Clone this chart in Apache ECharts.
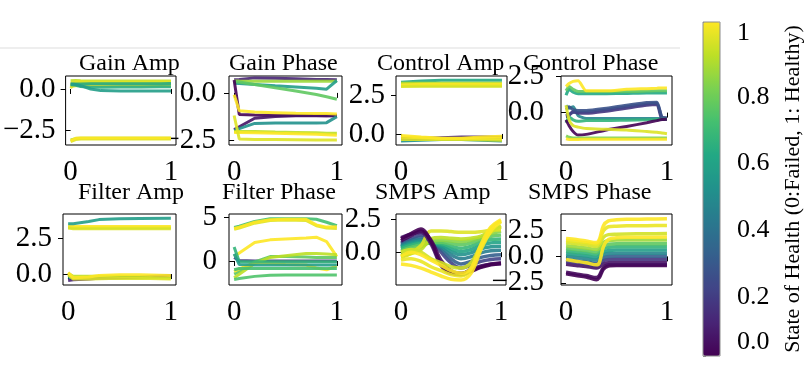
<!DOCTYPE html>
<html>
<head>
<meta charset="utf-8">
<script src="https://cdn.jsdelivr.net/npm/echarts@6/dist/echarts.min.js"></script>
<style>
  html, body { margin: 0; padding: 0; background: #fff; }
  #chart { width: 810px; height: 376px; }
</style>
</head>
<body>
<div id="chart"></div>
<script>
// panel titles and y ticks
const titles = ['Gain Amp', 'Gain Phase', 'Control Amp', 'Control Phase',
  'Filter Amp', 'Filter Phase', 'SMPS Amp', 'SMPS Phase'];
const yTicks = [[-2.5, 0], [-2.5, 0], [0, 2.5], [0, 2.5], [0, 2.5], [0, 5], [0, 2.5], [-2.5, 0, 2.5]];
const yTickLabels = [['−2.5', '0.0'], ['−2.5', '0.0'], ['0.0', '2.5'], ['0.0', '2.5'],
  ['0.0', '2.5'], ['0', '5'], ['0.0', '2.5'], ['−2.5', '0.0', '2.5']];
const yLimits = [[-3.41, 0.79], [-2.77, 0.9], [-0.71, 3.72], [-2.23, 2.52],
  [-0.76, 4.17], [-2.73, 5.34], [-2.48, 2.88], [-2.7, 4.0]];
const xTicks = [0, 1];
const xTickLabels = ['0', '1'];
const cbarTicks = [0, 0.2, 0.4, 0.6, 0.8, 1];
const cbarTickLabels = ['0.0', '0.2', '0.4', '0.6', '0.8', '1'];

// each line: [state of health, y values along the panel's x]
const gainAmpX = [0, 0.05, 0.1, 0.2, 0.3, 0.5, 0.7, 0.9, 1];
const gainAmp = [
  [0.9, [0.5, 0.52, 0.5, 0.48, 0.48, 0.48, 0.48, 0.48, 0.48]],
  [0.97, [0.15, 0.2, 0.22, 0.22, 0.22, 0.22, 0.22, 0.22, 0.22]],
  [1.0, [0.25, 0.28, 0.28, 0.28, 0.27, 0.27, 0.27, 0.27, 0.28]],
  [1.0, [0.35, 0.35, 0.35, 0.35, 0.36, 0.36, 0.37, 0.37, 0.37]],
  [0.95, [0.05, 0.45, 0.45, 0.42, 0.42, 0.43, 0.43, 0.44, 0.44]],
  [0.62, [0.25, 0.22, 0.15, 0.1, 0.1, 0.12, 0.12, 0.13, 0.13]],
  [0.6, [0.3, 0.3, 0.3, 0.32, 0.32, 0.32, 0.32, 0.32, 0.34]],
  [0.55, [0.3, 0.28, 0.2, 0.0, -0.1, -0.12, -0.12, -0.12, -0.12]],
  [0.85, [-3.1, -3.02, -3.0, -3.0, -3.0, -3.0, -3.0, -3.0, -3.0]],
  [0.95, [-3.2, -3.08, -3.05, -3.05, -3.05, -3.05, -3.05, -3.05, -3.05]],
  [1.0, [-3.15, -3.0, -2.98, -2.98, -2.98, -2.98, -2.98, -2.98, -2.98]]
];

const gainPhaseX = [0, 0.05, 0.2, 0.4, 0.6, 0.8, 0.9, 1];
const gainPhase = [
  [0.1, [0.7, 0.72, 0.8, 0.78, 0.75, 0.72, 0.72, 0.7]],
  [0.85, [0.64, 0.63, 0.62, 0.62, 0.62, 0.62, 0.62, 0.62]],
  [0.55, [0.52, 0.5, 0.45, 0.38, 0.32, 0.25, 0.2, 0.66]],
  [0.75, [0.6, 0.58, 0.45, 0.27, 0.1, -0.08, -0.2, -0.34]],
  [0.0, [0.69, -1.15, -1.18, -1.2, -1.2, -1.2, -1.22, -1.22]],
  [0.05, [-1.95, -1.8, -1.35, -1.25, -1.22, -1.22, -1.22, -1.2]],
  [0.5, [-2.0, -1.9, -1.62, -1.6, -1.6, -1.6, -1.58, -1.26]],
  [1.0, [-0.1, -0.95, -1.02, -1.05, -1.08, -1.1, -1.1, -1.12]],
  [0.9, [-2.05, -2.05, -2.05, -2.08, -2.1, -2.12, -2.15, -2.15]],
  [1.0, [-2.1, -2.1, -2.12, -2.15, -2.17, -2.2, -2.22, -2.25]],
  [0.95, [-1.2, -2.45, -2.48, -2.48, -2.49, -2.5, -2.5, -2.5]]
];

const controlAmpX = [0, 0.2, 0.4, 0.6, 0.8, 1];
const controlAmp = [
  [0.6, [3.32, 3.4, 3.44, 3.44, 3.44, 3.44]],
  [0.8, [3.1, 3.1, 3.1, 3.1, 3.1, 3.1]],
  [0.9, [3.25, 3.25, 3.25, 3.25, 3.25, 3.25]],
  [1.0, [3.15, 3.17, 3.17, 3.17, 3.17, 3.17]],
  [0.95, [3.05, 3.06, 3.06, 3.06, 3.06, 3.06]],
  [0.5, [-0.45, -0.4, -0.35, -0.35, -0.4, -0.45]],
  [0.1, [-0.3, -0.3, -0.25, -0.2, -0.2, -0.22]],
  [0.95, [-0.35, -0.35, -0.35, -0.35, -0.38, -0.4]],
  [0.98, [-0.2, -0.25, -0.3, -0.3, -0.3, -0.3]],
  [1.0, [-0.1, -0.2, -0.28, -0.28, -0.2, -0.15]]
];

const controlPhaseX = [0, 0.03, 0.07, 0.12, 0.2, 0.4, 0.6, 0.8, 0.9, 0.95, 1];
const controlPhase = [
  [0.6, [1.2, 1.6, 1.4, 1.3, 1.3, 1.3, 1.32, 1.35, 1.35, 1.35, 1.35]],
  [0.75, [1.5, 1.8, 1.6, 1.45, 1.45, 1.45, 1.45, 1.48, 1.5, 1.5, 1.5]],
  [0.45, [0.5, 0.3, 0.4, -0.2, -0.4, -0.4, -0.4, -0.4, -0.4, -0.4, -0.4]],
  [0.15, [-0.3, -0.2, 0.1, -0.05, -0.05, 0.1, 0.3, 0.5, 0.55, -0.45, -0.45]],
  [0.2, [-0.2, -0.1, 0.0, 0.05, 0.05, 0.2, 0.4, 0.6, 0.65, -0.35, -0.4]],
  [0.25, [0.2, 0.4, 0.2, 0.15, 0.15, 0.3, 0.5, 0.7, 0.72, -0.3, -0.35]],
  [0.65, [-0.7, -0.3, -0.5, -0.6, -0.55, -0.55, -0.52, -0.5, -0.48, -0.45, -0.45]],
  [0.0, [-0.5, -0.9, -1.3, -1.55, -1.5, -1.2, -0.95, -0.7, -0.55, -0.48, -0.45]],
  [0.8, [-1.6, -1.7, -1.75, -1.75, -1.75, -1.75, -1.75, -1.75, -1.75, -1.75, -1.75]],
  [0.95, [0.5, -0.5, -0.9, -1.0, -1.1, -1.15, -1.2, -1.3, -1.35, -1.4, -1.45]],
  [1.0, [-1.8, -1.85, -1.85, -1.85, -1.83, -1.83, -1.83, -1.83, -1.83, -1.83, -1.83]],
  [1.0, [1.8, 2.0, 2.15, 2.2, 1.5, 1.5, 1.6, 1.65, 1.68, 1.7, 1.7]]
];

const filterAmpX = [0, 0.05, 0.2, 0.3, 0.5, 0.7, 1];
const filterAmp = [
  [0.85, [3.25, 3.22, 3.22, 3.22, 3.22, 3.22, 3.22]],
  [1.0, [3.35, 3.3, 3.3, 3.3, 3.3, 3.3, 3.3]],
  [0.95, [3.2, 3.15, 3.15, 3.15, 3.15, 3.15, 3.15]],
  [0.55, [3.5, 3.5, 3.65, 3.78, 3.84, 3.86, 3.87]],
  [0.5, [-0.2, -0.3, -0.3, -0.28, -0.25, -0.25, -0.22]],
  [0.1, [-0.45, -0.4, -0.35, -0.3, -0.25, -0.2, -0.1]],
  [0.9, [0.05, -0.15, -0.15, -0.15, -0.15, -0.2, -0.3]],
  [0.95, [-0.05, -0.35, -0.35, -0.33, -0.3, -0.3, -0.35]],
  [1.0, [0.1, -0.25, -0.2, -0.1, -0.05, -0.05, -0.1]]
];

const filterPhaseX = [0, 0.05, 0.2, 0.35, 0.5, 0.7, 0.8, 0.9, 1];
const filterPhase = [
  [0.15, [0.4, 0.05, 0.0, 0.0, 0.0, 0.0, 0.0, 0.0, 0.0]],
  [0.7, [3.8, 3.95, 4.5, 4.8, 4.8, 4.8, 4.75, 4.4, 4.0]],
  [0.95, [3.6, 3.75, 4.3, 4.6, 4.65, 4.6, 4.0, 3.75, 3.7]],
  [1.0, [3.7, 3.85, 4.4, 4.7, 4.75, 4.75, 4.1, 3.85, 3.9]],
  [1.0, [0.5, 0.9, 2.1, 2.4, 2.5, 2.6, 2.7, 2.2, 0.5]],
  [0.75, [-1.5, -1.2, -0.1, 0.5, 0.5, 0.45, 0.4, 0.4, 0.4]],
  [0.9, [-1.9, -1.5, -0.3, 0.4, 0.6, 0.85, 0.85, 0.8, 0.7]],
  [1.0, [-1.2, -0.9, -0.2, -0.3, -0.4, -0.45, -0.8, -1.0, -0.55]],
  [0.65, [1.6, -0.1, -0.1, -0.1, -0.1, -0.1, -0.1, -0.1, -0.1]],
  [0.55, [0.8, -0.4, -0.45, -0.45, -0.45, -0.45, -0.45, -0.45, -0.45]],
  [0.7, [-1.0, -0.85, -0.85, -0.85, -0.85, -0.85, -0.85, -0.85, -0.85]],
  [0.72, [-2.1, -2.0, -1.75, -1.62, -1.6, -1.6, -1.6, -1.6, -1.6]]
];

const smpsAmpX = [0, 0.1, 0.2, 0.3, 0.4, 0.5, 0.6, 0.7, 0.8, 0.9, 1];
const smpsAmp = [
  [0.2, [0.7, 1.0, 1.3, 0.9, 0.0, -0.8, -1.2, -1.0, -0.7, -0.55, -0.5]],
  [0.3, [0.6, 0.9, 1.1, 0.8, 0.2, -0.5, -0.9, -0.7, -0.4, -0.25, -0.2]],
  [0.42, [0.5, 0.8, 0.95, 0.75, 0.35, -0.2, -0.5, -0.35, -0.05, 0.1, 0.15]],
  [0.5, [0.4, 0.7, 0.85, 0.7, 0.45, 0.05, -0.2, -0.05, 0.25, 0.4, 0.45]],
  [0.58, [0.35, 0.6, 0.75, 0.7, 0.55, 0.25, 0.05, 0.2, 0.5, 0.7, 0.75]],
  [0.66, [0.25, 0.5, 0.65, 0.7, 0.65, 0.45, 0.3, 0.45, 0.75, 0.95, 1.0]],
  [0.75, [0.1, 0.35, 0.55, 0.75, 0.75, 0.65, 0.55, 0.7, 0.95, 1.2, 1.3]],
  [0.82, [-0.1, 0.15, 0.4, 0.8, 0.9, 0.85, 0.8, 0.9, 1.1, 1.4, 1.6]],
  [0.9, [-0.3, -0.1, 0.2, 1.0, 1.1, 1.05, 1.0, 1.05, 1.2, 1.6, 1.9]],
  [0.95, [-0.4, -0.1, 0.5, 1.6, 1.6, 1.55, 1.5, 1.5, 1.55, 1.65, 1.7]],
  [0.08, [1.1, 1.35, 1.5, 0.6, -1.0, -1.6, -1.65, -1.3, -1.05, -0.92, -0.88]],
  [0.03, [0.85, 1.25, 1.6, 0.9, -0.6, -1.4, -1.6, -1.4, -1.1, -0.9, -0.8]],
  [0.0, [1.0, 1.4, 1.75, 0.8, -0.9, -1.55, -1.7, -1.45, -1.15, -0.95, -0.85]],
  [0.93, [0.0, 0.2, 0.0, -0.5, -0.8, -1.1, -1.2, -0.8, 0.5, 1.5, 2.0]],
  [0.97, [-0.6, -0.5, -0.7, -1.1, -1.4, -1.7, -1.8, -1.3, 0.4, 1.8, 2.35]],
  [1.0, [-0.3, 0.0, -0.2, -0.6, -1.0, -1.4, -1.6, -1.2, 0.6, 1.9, 2.45]],
  [1.0, [-0.9, -1.0, -1.2, -1.5, -1.8, -2.05, -2.1, -1.6, 0.2, 1.6, 2.3]]
];

const smpsPhaseX = [0, 0.1, 0.2, 0.3, 0.33, 0.37, 0.42, 0.5, 0.6, 0.8, 1];
const smpsPhase = [
  [0.0, [-1.65, -1.8, -1.95, -2.2, -2.0, -1.2, -0.9, -0.85, -0.85, -0.85, -0.85]],
  [0.02, [-1.5, -1.65, -1.8, -2.0, -1.8, -1.05, -0.8, -0.78, -0.78, -0.8, -0.8]],
  [0.05, [-0.75, -0.85, -0.95, -1.1, -1.0, -0.7, -0.6, -0.6, -0.6, -0.6, -0.6]],
  [0.15, [-0.5, -0.6, -0.7, -0.85, -0.75, -0.4, -0.3, -0.28, -0.28, -0.28, -0.28]],
  [0.3, [-0.3, -0.4, -0.5, -0.65, -0.5, -0.15, 0.0, 0.02, 0.02, 0.02, 0.02]],
  [0.45, [0.0, -0.1, -0.2, -0.35, -0.2, 0.15, 0.28, 0.3, 0.3, 0.3, 0.3]],
  [0.55, [0.25, 0.15, 0.05, -0.1, 0.05, 0.4, 0.55, 0.6, 0.6, 0.6, 0.6]],
  [0.65, [0.5, 0.4, 0.3, 0.15, 0.3, 0.7, 0.85, 0.9, 0.9, 0.9, 0.9]],
  [0.75, [0.75, 0.65, 0.55, 0.4, 0.55, 1.0, 1.15, 1.2, 1.2, 1.2, 1.2]],
  [0.85, [1.0, 0.9, 0.8, 0.65, 0.8, 1.3, 1.5, 1.55, 1.55, 1.55, 1.55]],
  [0.93, [1.3, 1.2, 1.1, 0.95, 1.1, 1.8, 2.05, 2.1, 2.12, 2.13, 2.15]],
  [0.97, [1.5, 1.4, 1.3, 1.15, 1.4, 2.4, 2.8, 2.85, 2.88, 2.9, 2.92]],
  [1.0, [1.7, 1.6, 1.45, 1.3, 1.6, 2.9, 3.35, 3.45, 3.5, 3.52, 3.55]],
  [1.0, [-0.3, -0.45, -0.6, -0.8, -0.6, 0.9, 1.6, 1.75, 1.8, 1.8, 1.82]]
];

const panelX = [gainAmpX, gainPhaseX, controlAmpX, controlPhaseX, filterAmpX, filterPhaseX, smpsAmpX, smpsPhaseX];
const panelLines = [gainAmp, gainPhase, controlAmp, controlPhase, filterAmp, filterPhase, smpsAmp, smpsPhase];

// layout in px: [left, top, width, height]
const boxes = [
  [63, 76, 113, 69], [229, 76, 113, 69], [396, 76, 111, 69], [561, 76, 111, 69],
  [63, 214, 113, 71], [229, 214, 113, 71], [396, 214, 110, 71], [561, 214, 111, 71]
];
const yLabelMargin = [10, 13, 11, 17, 11, 12, 15, 17];
const titleLeft = [79, 229, 377, 523, 78, 222, 375, 528];
const titleTop = [52, 52, 52, 52, 181, 181, 181, 181];
const lineWidth = [3, 3, 3, 3, 3, 3, 3.5, 3.5];
const smoothness = [0, 0, 0, 0.2, 0, 0, 0.35, 0.3];

const serif = '"Liberation Serif", "DejaVu Serif", serif';

// viridis
const viridis = ['#440154', '#482475', '#414487', '#355f8d', '#2a788e', '#21918c',
  '#22a884', '#44bf70', '#7ad151', '#bddf26', '#fde725'];

function hexRgb(h) {
  return [1, 3, 5].map(i => parseInt(h.slice(i, i + 2), 16));
}
function sohColor(v) {
  const t = Math.max(0, Math.min(1, v)) * 10;
  const i = Math.min(9, Math.floor(t));
  const f = t - i;
  const a = hexRgb(viridis[i]), b = hexRgb(viridis[i + 1]);
  const c = a.map((ch, k) => Math.round(ch + (b[k] - ch) * f));
  return 'rgb(' + c.join(',') + ')';
}

const grids = boxes.map(b => ({
  left: b[0], top: b[1], width: b[2], height: b[3],
  show: true, borderColor: '#000', borderWidth: 1, backgroundColor: '#fff'
}));
// colorbar frame
grids.push({ left: 703, top: 22, width: 17, height: 334, show: true, borderColor: '#8c8c8c', borderWidth: 1, backgroundColor: 'transparent', z: 5 });

const xAxes = boxes.map((b, i) => ({
  type: 'value', gridIndex: i, min: -0.05, max: 1.05,
  axisLine: { show: false },
  splitLine: { show: false },
  axisTick: { show: true, length: 5, customValues: xTicks, lineStyle: { color: '#000' } },
  axisLabel: {
    customValues: xTicks, margin: 13, color: '#000', fontFamily: serif, fontSize: 29,
    hideOverlap: false,
    formatter: v => xTickLabels[xTicks.indexOf(v)]
  }
}));
xAxes.push({ type: 'value', gridIndex: 8, min: 0, max: 1, show: false });

// two stacked y axes per panel (even / odd ticks) so close labels are not dropped as overlapping
function yAxisFor(i, part) {
  const ticks = yTicks[i].filter((t, k) => k % 2 === part);
  return {
    type: 'value', gridIndex: i, min: yLimits[i][0], max: yLimits[i][1], position: 'left', offset: 0,
    axisLine: { show: false },
    splitLine: { show: false },
    axisTick: { show: ticks.length > 0, length: 5, customValues: ticks, lineStyle: { color: '#000' } },
    axisLabel: {
      show: ticks.length > 0,
      customValues: ticks, margin: yLabelMargin[i], color: '#000', fontFamily: serif, fontSize: 29,
      hideOverlap: false,
      formatter: v => yTickLabels[i][yTicks[i].indexOf(v)]
    }
  };
}
const yAxes = [];
boxes.forEach((b, i) => {
  yAxes.push(yAxisFor(i, 0));
  yAxes.push(yAxisFor(i, 1));
});
yAxes.push({
  type: 'value', gridIndex: 8, position: 'right', min: 0, max: 1, interval: 0.2,
  axisLine: { show: false },
  splitLine: { show: false },
  axisTick: { show: true, length: 3, lineStyle: { color: '#8c8c8c' } },
  axisLabel: {
    margin: 17, color: '#000', fontFamily: serif, fontSize: 26, hideOverlap: false,
    formatter: v => {
      const k = cbarTicks.findIndex(t => Math.abs(t - v) < 1e-6);
      const tag = k === 0 ? 'lo' : (k === cbarTicks.length - 1 ? 'hi' : 'mid');
      return '{' + tag + '|' + cbarTickLabels[k] + '}';
    },
    rich: {
      lo: { fontFamily: serif, fontSize: 26, color: '#000', padding: [0, 0, 28, 0] },
      mid: { fontFamily: serif, fontSize: 26, color: '#000', padding: [16, 0, 0, 0] },
      hi: { fontFamily: serif, fontSize: 26, color: '#000', padding: [22, 0, 0, 0] }
    }
  },
  name: 'State of Health (0:Failed, 1: Healthy)',
  nameLocation: 'middle',
  nameRotate: 90,
  nameGap: 62,
  nameTextStyle: { fontFamily: serif, fontSize: 22, color: '#000' }
});

const series = [];
panelLines.forEach((lines, i) => {
  lines.forEach(([soh, ys]) => {
    series.push({
      type: 'line', xAxisIndex: i, yAxisIndex: 2 * i,
      data: panelX[i].map((x, k) => [x, ys[k]]),
      showSymbol: false, symbol: 'none',
      smooth: smoothness[i] || false,
      lineStyle: { color: sohColor(soh), width: lineWidth[i], opacity: 0.9 },
      silent: true
    });
  });
});

const chart = echarts.init(document.getElementById('chart'), null, { renderer: 'canvas' });
chart.setOption({
  animation: false,
  backgroundColor: '#fff',
  title: titles.map((t, i) => ({
    text: t, left: titleLeft[i], top: titleTop[i], padding: 0,
    textStyle: { fontFamily: serif, fontSize: 24, fontWeight: 'normal', color: '#000' }
  })),
  grid: grids,
  xAxis: xAxes,
  yAxis: yAxes,
  visualMap: {
    type: 'continuous', min: 0, max: 1, seriesIndex: [],
    left: 703, top: 22, itemWidth: 17, itemHeight: 334, padding: 0,
    calculable: false, showLabel: false, text: null,
    inRange: { color: viridis }
  },
  graphic: [{
    type: 'line', silent: true,
    shape: { x1: 0, y1: 48, x2: 680, y2: 48 },
    style: { stroke: '#eeeeee', lineWidth: 2 }
  }],
  series: series
});
</script>
</body>
</html>
